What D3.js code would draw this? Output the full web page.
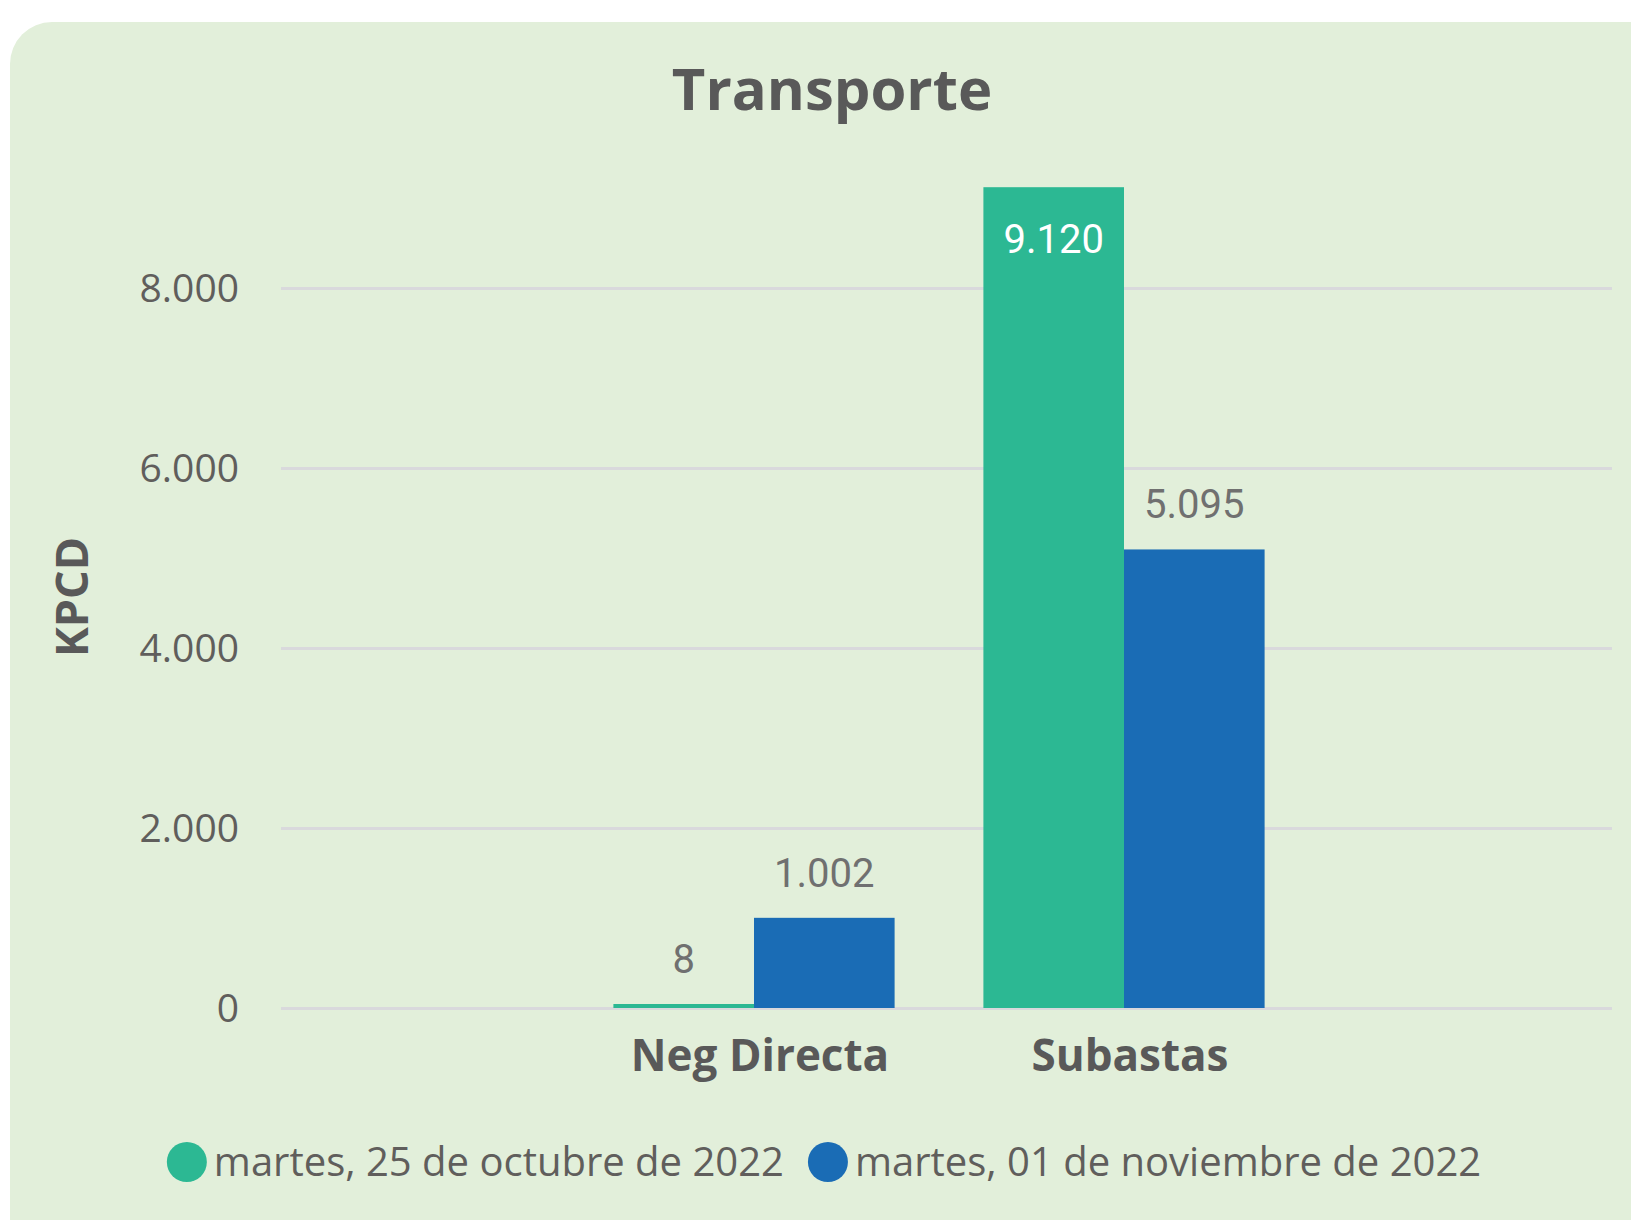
<!DOCTYPE html>
<html>
<head>
<meta charset="utf-8">
<script src="https://cdn.jsdelivr.net/npm/d3@7"></script>
<style>
    body { margin: 0; background: #ffffff; }
    svg { display: block; }
</style>
</head>
<body>
<svg id="transporte_chart" width="1631" height="1220" viewBox="0 0 1631 1220"></svg>
<script>
// Chart data
const categories = ["Neg Directa", "Subastas"];
const series_names = ["martes, 25 de octubre de 2022", "martes, 01 de noviembre de 2022"];
const values_oct25 = [8, 9120];
const values_nov01 = [1002, 5095];
const y_ticks = [0, 2000, 4000, 6000, 8000];
const series_colors = ["#2cb893", "#1a6cb5"];

// Spanish number format: 1.002, 9.120
const es = d3.formatLocale({ decimal: ",", thousands: ".", grouping: [3], currency: ["", " €"] });
const fmt = es.format(",.0f");

class Bar_Chart {
    constructor(svg_element_id) {
        this.svg = d3.select(`#${svg_element_id}`);
        this.width = 1631;
        this.height = 1220;
        this.initScales();
        this.drawFrame();
        this.drawAxes();
        this.drawBars();
        this.drawLegend();
    }

    initScales() {
        this.x = d3.scaleBand()
            .domain(categories)
            .range([569, 1309])
            .paddingInner(0.24)
            .paddingOuter(0.12);

        this.xSub = d3.scaleBand()
            .domain(series_names)
            .range([0, this.x.bandwidth()]);

        this.y = d3.scaleLinear()
            .domain([0, 9500])
            .range([1008, 153]);
    }

    drawFrame() {
        // light green card
        this.svg.append("rect")
            .attr("x", 10)
            .attr("y", 22)
            .attr("width", 1680)
            .attr("height", 1260)
            .attr("rx", 42)
            .attr("fill", "#e2efda");

        this.svg.append("text")
            .attr("x", 832)
            .attr("y", 110)
            .attr("text-anchor", "middle")
            .style("font-family", "'Open Sans', sans-serif")
            .style("font-weight", "bold")
            .style("font-size", "58px")
            .style("fill", "#595959")
            .text("Transporte");
    }

    drawAxes() {
        const yAxis = d3.axisLeft(this.y)
            .tickValues(y_ticks)
            .tickSize(-(1612 - 281))
            .tickPadding(42)
            .tickFormat(fmt);

        const g = this.svg.append("g")
            .attr("class", "y-axis")
            .attr("transform", "translate(281,0)")
            .call(yAxis);

        g.select(".domain").remove();
        g.selectAll(".tick line")
            .attr("stroke", "#d9d9dc")
            .attr("stroke-width", 3);
        g.selectAll(".tick text")
            .attr("dy", "0.35em")
            .style("font-family", "'Open Sans', sans-serif")
            .style("font-size", "39px")
            .style("fill", "#605e5c");

        // axis title
        const [y0, y1] = this.y.range();
        this.svg.append("text")
            .attr("transform", `translate(88, ${(y0 + 186) / 2}) rotate(-90)`)
            .attr("text-anchor", "middle")
            .style("font-family", "'Open Sans', sans-serif")
            .style("font-weight", "bold")
            .style("font-size", "45px")
            .style("fill", "#595959")
            .text("KPCD");

        // category labels
        const xAxis = d3.axisBottom(this.x).tickSize(0).tickPadding(0);
        const gx = this.svg.append("g")
            .attr("class", "x-axis")
            .attr("transform", `translate(6, 1071)`)
            .call(xAxis);
        gx.select(".domain").remove();
        gx.selectAll(".tick text")
            .attr("dy", 0)
            .style("font-family", "'Open Sans', sans-serif")
            .style("font-weight", "bold")
            .style("font-size", "44px")
            .style("fill", "#595959");
    }

    drawBars() {
        const rows = categories.map((c, i) => ({
            category: c,
            values: [values_oct25[i], values_nov01[i]]
        }));

        const groups = this.svg.append("g")
            .selectAll("g")
            .data(rows)
            .enter().append("g")
            .attr("transform", d => `translate(${this.x(d.category)},0)`);

        const bars = groups.selectAll("g")
            .data(d => d.values.map((v, j) => ({ value: v, series: series_names[j], idx: j })))
            .enter().append("g");

        // keep tiny values visible
        const barTop = d => Math.min(this.y(d.value), this.y(0) - 4);

        bars.append("rect")
            .attr("x", d => this.xSub(d.series))
            .attr("y", d => barTop(d))
            .attr("width", this.xSub.bandwidth())
            .attr("height", d => this.y(0) - barTop(d))
            .attr("fill", d => series_colors[d.idx]);

        // data labels: outside end, inside end if no room above
        bars.append("text")
            .attr("x", d => this.xSub(d.series) + this.xSub.bandwidth() / 2)
            .attr("y", d => {
                const top = barTop(d);
                return top - 31 < 230 ? top + 66 : top - 31;
            })
            .attr("text-anchor", "middle")
            .style("font-family", "Roboto, sans-serif")
            .style("font-size", "40px")
            .style("fill", d => barTop(d) - 31 < 230 ? "#ffffff" : "#707070")
            .text(d => fmt(d.value));
    }

    drawLegend() {
        const legend = this.svg.append("g").attr("class", "legend");
        const r = 20;
        let offset = 0;

        series_names.forEach((name, i) => {
            const item = legend.append("g").attr("transform", `translate(${offset},0)`);
            item.append("circle")
                .attr("cx", r)
                .attr("cy", 0)
                .attr("r", r)
                .attr("fill", series_colors[i]);
            const label = item.append("text")
                .attr("x", 2 * r + 7)
                .attr("dy", "0.35em")
                .style("font-family", "'Open Sans', sans-serif")
                .style("font-size", "40px")
                .style("fill", "#605e5c")
                .text(name);
            offset += 2 * r + 7 + label.node().getComputedTextLength() + 24;
        });

        const total = offset - 24;
        legend.attr("transform", `translate(${824 - total / 2}, 1162)`);
    }
}

function whenDocumentLoaded(action) {
    if (document.readyState === "loading") {
        document.addEventListener("DOMContentLoaded", action);
    } else {
        action();
    }
}

whenDocumentLoaded(() => {
    new Bar_Chart("transporte_chart");
});
</script>
</body>
</html>
